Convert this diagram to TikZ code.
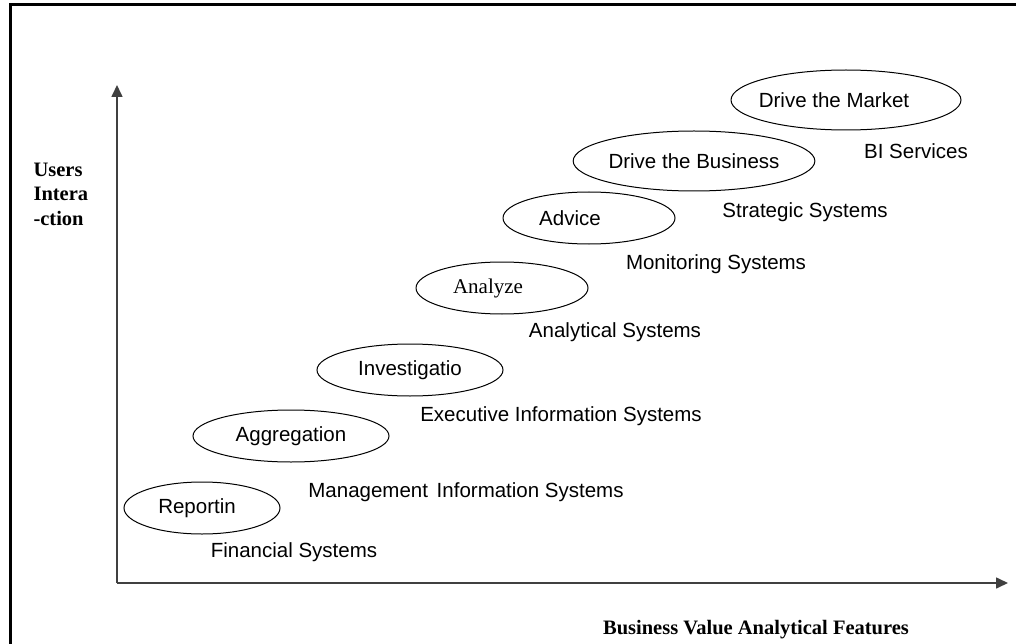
\documentclass[tikz,border=0pt]{standalone}
\usepackage{fontspec}
\setmainfont{Liberation Sans}
\newfontfamily\serifbi{Liberation Serif}
\usetikzlibrary{shapes.geometric,arrows.meta}
\tikzset{
	stage/.style={draw, ellipse, inner sep=0pt, line width=1pt},
	axis/.style={line width=1.6pt, draw=black!75, -{Triangle[length=12pt,width=11pt]}},
	axislabel/.style={font=\fontsize{20.5}{24.5}\serifbi\bfseries},
}
\begin{document}
\begin{tikzpicture}[x=1pt, y=-1pt, font=\fontsize{20.5}{24.5}\selectfont]
			\useasboundingbox (0,0) rectangle (1016,644);
			% cadre
			\coordinate (Fb) at (10,644);
			\coordinate (Fc) at (10,5);
			\coordinate (Fr) at (1016,5);
			\draw[line width=3pt] (Fb) -- (Fc) -- (Fr);
			% axes
			\coordinate (O)  at (117,583);
			\coordinate (Yt) at (117,85);
			\coordinate (Xt) at (1008,583);
			\draw[axis] (O) -- (Yt);
			\draw[axis] (O) -- (Xt);
			\node (Ui) at (30,194) [axislabel, anchor=west, align=left] {Users\\Intera\\-ction};
			\node (Bv) at (756,630) [axislabel] {Business Value Analytical Features};
			% ellipses
			\node (Re) at (202,508) [stage, minimum width=156pt, minimum height=52pt] {Reportin\hspace*{10pt}};
			\node (Ag) at (291,436) [stage, minimum width=196pt, minimum height=52pt] {Aggregation};
			\node (In) at (410,370) [stage, minimum width=186pt, minimum height=52pt] {Investigatio};
			\node (An) at (502,288) [stage, minimum width=172pt, minimum height=52pt] {\fontsize{21}{24}\serifbi Analyze\hspace*{28pt}};
			\node (Ad) at (589,218) [stage, minimum width=172pt, minimum height=52pt] {Advice\hspace*{38pt}};
			\node (Db) at (694,161) [stage, minimum width=236pt, minimum height=60pt] {Drive the Business};
			\node (Dm) at (846,100) [stage, inner xsep=-12pt, minimum width=230pt, minimum height=60pt] {Drive the Market\hspace*{24pt}};
			% systemes
			\node (Fs) at (294,552) [] {Financial Systems};
			\node (Ms) at (466,492) [] {Management\hspace{3pt} Information Systems};
			\node (Es) at (561,416) [] {Executive Information Systems};
			\node (As) at (615,332) [] {Analytical Systems};
			\node (Mo) at (716,264) [] {Monitoring Systems};
			\node (Ss) at (805,212) [] {Strategic Systems};
			\node (Bi) at (916,151) [] {BI Services};
		\end{tikzpicture}
\end{document}
